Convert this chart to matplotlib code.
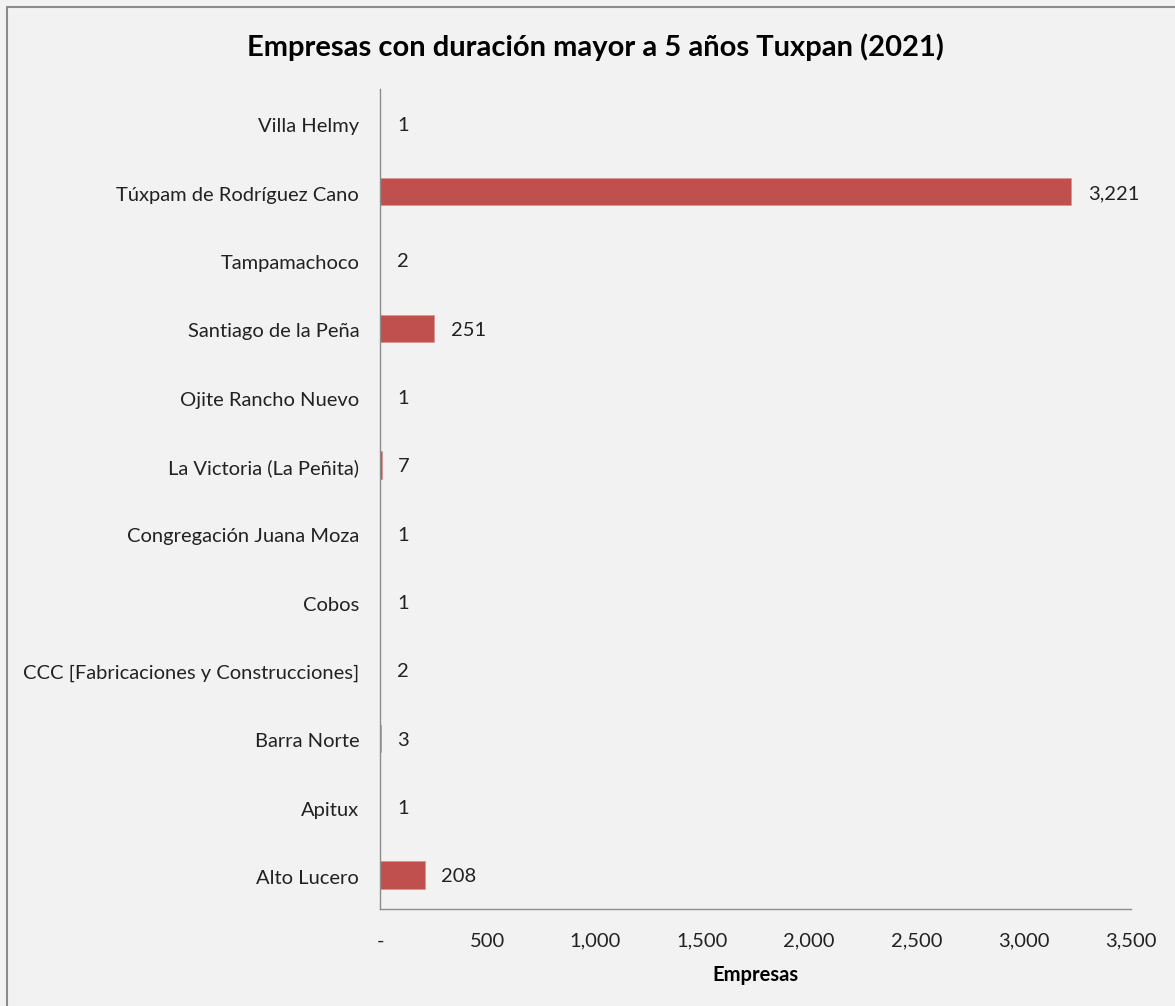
import matplotlib.pyplot as plt
from matplotlib.patches import Rectangle
from matplotlib.ticker import FuncFormatter
from matplotlib.transforms import ScaledTranslation

plt.rcParams['font.family'] = ['Lato', 'DejaVu Sans']

# bottom to top, as in the chart
localidades = [
    "Alto Lucero", "Apitux", "Barra Norte",
    "CCC [Fabricaciones y Construcciones]", "Cobos",
    "Congregación Juana Moza", "La Victoria (La Peñita)",
    "Ojite Rancho Nuevo", "Santiago de la Peña", "Tampamachoco",
    "Túxpam de Rodríguez Cano", "Villa Helmy",
]
empresas = [208, 1, 3, 2, 1, 1, 7, 1, 251, 2, 3221, 1]
xticks = [0, 500, 1000, 1500, 2000, 2500, 3000, 3500]

bg = '#f2f2f2'
fig = plt.figure(figsize=(11.75, 10.06), dpi=100, facecolor=bg)
# chart area border (only left and top edges fall inside the image)
fig.patches.append(Rectangle((7 / 1175, -0.1), 1.2, 1.1 - 7 / 1006, transform=fig.transFigure,
                             facecolor='none', edgecolor='#8c8c8c', linewidth=1.5))

ax = fig.add_axes([380 / 1175, 1 - 909 / 1006, 751 / 1175, 820 / 1006])
ax.set_facecolor(bg)

pos = range(len(localidades))
ax.barh(pos, empresas, height=0.4, color='#c0504d', edgecolor='#d99694', linewidth=0.6)

for y, v in zip(pos, empresas):
    ax.annotate(f"{v:,}", (v, y), xytext=(12, -1.5), textcoords='offset points',
                ha='left', va='center', fontsize=14.5, color='#222222')

ax.set_xlim(0, 3500)
ax.set_ylim(-0.5, len(localidades) - 0.5)
ax.set_xticks(xticks)
ax.xaxis.set_major_formatter(FuncFormatter(lambda x, p: '-' if x == 0 else f"{x:,.0f}"))
ax.set_yticks(list(pos))
ax.set_yticklabels(localidades)
ax.tick_params(axis='both', length=0, labelsize=14.5, colors='#222222')
ax.tick_params(axis='y', pad=15)
ax.tick_params(axis='x', pad=17)
# nudge category labels down a little
shift = ScaledTranslation(0, -1.5 / 72, fig.dpi_scale_trans)
for lbl in ax.get_yticklabels():
    lbl.set_transform(lbl.get_transform() + shift)

for s in ['top', 'right']:
    ax.spines[s].set_visible(False)
for s in ['left', 'bottom']:
    ax.spines[s].set_color('#8c8c8c')
    ax.spines[s].set_linewidth(1.0)

ax.set_xlabel("Empresas", fontsize=14.5, fontweight='bold', labelpad=11)
fig.text(595 / 1175, 1 - 47 / 1006, "Empresas con duración mayor a 5 años Tuxpan (2021)",
         ha='center', va='center', fontsize=21, fontweight='bold')

fig.savefig("out.png", dpi=100, facecolor=bg)
